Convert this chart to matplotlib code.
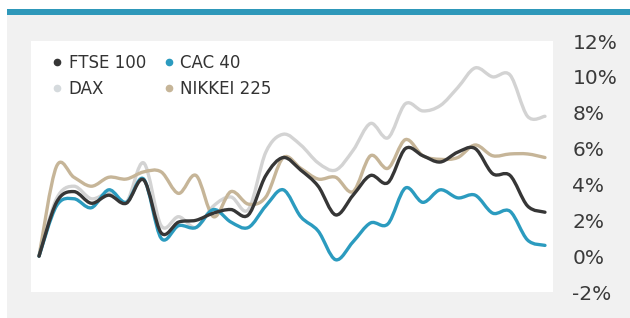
import matplotlib.pyplot as plt
from matplotlib.lines import Line2D
from matplotlib.patches import Rectangle, PathPatch
from matplotlib.path import Path

# ==========================================================
# DATA (monthly % change)
# ==========================================================
months = list(range(30))

ftse_100 = [0.0, 3.0, 3.6, 2.95, 3.4, 2.95, 4.25, 1.3, 1.9, 2.0,
            2.4, 2.6, 2.3, 4.5, 5.5, 4.8, 3.9, 2.3, 3.4, 4.5,
            4.1, 6.0, 5.6, 5.25, 5.8, 6.0, 4.6, 4.5, 2.8, 2.45]

cac_40 = [0.0, 2.8, 3.2, 2.7, 3.7, 3.0, 4.3, 1.0, 1.7, 1.6,
          2.6, 1.9, 1.6, 2.8, 3.7, 2.2, 1.4, -0.2, 0.8, 1.85,
          1.8, 3.8, 3.0, 3.7, 3.25, 3.4, 2.4, 2.5, 0.9, 0.6]

dax = [0.0, 3.2, 3.9, 3.2, 3.5, 3.0, 5.2, 1.7, 2.2, 1.6,
       2.8, 3.3, 2.6, 5.8, 6.8, 6.2, 5.2, 4.8, 5.9, 7.4,
       6.6, 8.5, 8.1, 8.4, 9.4, 10.5, 10.0, 10.1, 7.8, 7.8]

nikkei_225 = [0.0, 5.0, 4.4, 3.9, 4.4, 4.3, 4.7, 4.7, 3.5, 4.5,
              2.2, 3.6, 2.9, 3.3, 5.5, 4.9, 4.3, 4.4, 3.6, 5.6,
              4.9, 6.5, 5.6, 5.4, 5.5, 6.2, 5.6, 5.7, 5.7, 5.5]

series_names = ['FTSE 100', 'CAC 40', 'DAX', 'NIKKEI 225']
series_colors = ['#363636', '#2b9bbf', '#d3d3d3', '#c6b598']
y_ticks = [-2, 0, 2, 4, 6, 8, 10, 12]


def smooth_path(xs, ys):
    # Excel-style smoothed line: cubic bezier through every data point
    n = len(xs)
    verts = [(xs[0], ys[0])]
    codes = [Path.MOVETO]
    for i in range(n - 1):
        i0 = max(i - 1, 0)
        i3 = min(i + 2, n - 1)
        c1 = (xs[i] + (xs[i + 1] - xs[i0]) / 6, ys[i] + (ys[i + 1] - ys[i0]) / 6)
        c2 = (xs[i + 1] - (xs[i3] - xs[i]) / 6, ys[i + 1] - (ys[i3] - ys[i]) / 6)
        verts += [c1, c2, (xs[i + 1], ys[i + 1])]
        codes += [Path.CURVE4] * 3
    return Path(verts, codes)


# ==========================================================
# FIGURE
# ==========================================================
W, H = 630, 318
fig = plt.figure(figsize=(W / 100, H / 100), dpi=100)
fig.patch.set_facecolor('white')

# grey panel and blue top band
fig.add_artist(Rectangle((7 / W, 0), 1, 1 - 15 / H, transform=fig.transFigure,
                         facecolor='#f1f1f1', edgecolor='none', zorder=0))
fig.add_artist(Rectangle((7 / W, 1 - 15 / H), 1, 6 / H, transform=fig.transFigure,
                         facecolor='#2e98ba', edgecolor='none', zorder=0))

ax = fig.add_axes([31 / W, 1 - 292 / H, (553 - 31) / W, (292 - 41) / H])
ax.set_facecolor('white')

# draw order: light ones first so the dark line sits on top
draw_order = [2, 3, 1, 0]
all_series = [ftse_100, cac_40, dax, nikkei_225]
for idx in draw_order:
    ax.add_patch(PathPatch(smooth_path(months, all_series[idx]), fill=False,
                           edgecolor=series_colors[idx], lw=2.4,
                           joinstyle='round', capstyle='round'))

ax.set_xlim(-0.46, 29.46)
ax.set_ylim(-2, 12)
ax.set_xticks([])
ax.set_yticks(y_ticks)
ax.set_yticklabels([f'{t}%' for t in y_ticks])
ax.yaxis.tick_right()
ax.tick_params(axis='y', length=0, pad=14, labelsize=14.5, labelcolor='#3a3a3a')
for sp in ax.spines.values():
    sp.set_visible(False)

# legend fills column-wise, so order it to read FTSE/CAC on row one
legend_order = [0, 2, 1, 3]
legend_dot_colors = ['#363636', '#2b9bbf', '#d5dadd', '#c6b598']
handles = [Line2D([], [], ls='none', marker='o', ms=4.5,
                  color=legend_dot_colors[i], mec=legend_dot_colors[i])
           for i in legend_order]
labels = [series_names[i] for i in legend_order]
leg = ax.legend(handles, labels, ncol=2, frameon=False,
                loc='upper left', bbox_to_anchor=(53 / W, 1 - 54 / H),
                bbox_transform=fig.transFigure, fontsize=12,
                handlelength=0.5, handletextpad=0.45, columnspacing=1.1,
                labelspacing=0.45, borderaxespad=0, borderpad=0)
for t in leg.get_texts():
    t.set_color('#333333')

fig.savefig('out.png', dpi=100)
